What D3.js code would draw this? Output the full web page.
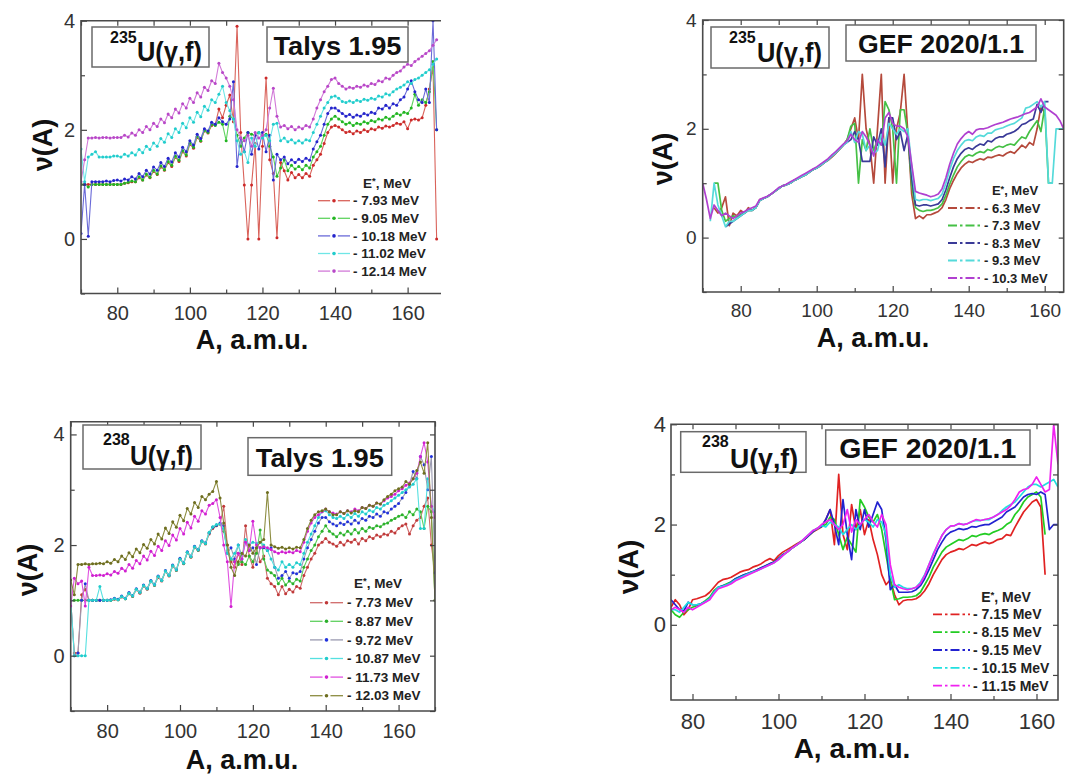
<!DOCTYPE html>
<html>
<head>
<meta charset="utf-8">
<script src="https://cdn.jsdelivr.net/npm/d3@7"></script>
<style>
  body { margin: 0; background: #fff; }
  svg { display: block; }
</style>
</head>
<body>
<svg id="chart" width="1065" height="776"></svg>
<script>
// ---------- data: nu(A), one value per mass number ----------

// 235U(g,f), Talys 1.95, A = 70..169
const talys235A0 = 70;
const talys235Energies = ['7.93', '9.05', '10.18', '11.02', '12.14'];
const talys235E793 = [
  1.00,1.00,1.00,1.00,1.00,1.00,1.00,1.00,1.00,1.00,
  1.00,1.00,1.02,1.03,1.05,1.05,1.12,1.08,1.17,1.12,
  1.24,1.18,1.32,1.26,1.40,1.33,1.50,1.42,1.60,1.52,
  1.74,1.66,1.86,1.79,1.98,1.94,2.08,2.10,2.38,2.22,
  2.45,2.64,2.15,3.90,1.95,0.99,0.00,0.99,1.75,0.00,
  1.70,2.95,1.45,1.20,0.02,1.40,1.25,1.08,1.22,1.12,
  1.18,1.12,1.20,1.15,1.35,1.45,1.55,1.75,1.95,2.05,
  2.08,2.05,2.00,1.95,1.97,1.93,1.98,1.95,2.00,1.97,
  2.02,2.00,2.05,2.03,2.07,2.05,2.08,2.12,2.10,2.15,
  2.02,2.18,2.20,2.18,2.22,2.45,2.75,3.15,0.00,null];
const talys235E905 = [
  1.00,1.00,0.95,1.00,1.00,1.00,1.00,1.00,1.00,1.00,
  1.00,1.00,1.02,1.04,1.06,1.05,1.14,1.08,1.19,1.13,
  1.26,1.19,1.34,1.27,1.42,1.35,1.52,1.44,1.62,1.54,
  1.76,1.68,1.88,1.80,1.99,1.95,2.10,2.08,2.14,2.10,
  1.80,2.25,2.20,1.90,1.70,1.85,1.95,1.92,1.90,1.95,
  1.88,1.92,1.70,1.50,1.15,1.30,1.45,1.25,1.35,1.28,
  1.33,1.27,1.35,1.30,1.50,1.60,1.70,1.90,2.10,2.20,
  2.25,2.20,2.15,2.10,2.13,2.08,2.12,2.10,2.15,2.12,
  2.17,2.15,2.20,2.18,2.23,2.20,2.25,2.30,2.27,2.32,
  2.30,2.40,2.65,2.45,2.55,2.50,2.70,3.25,2.00,null];
const talys235E1018 = [
  0.10,1.00,0.05,1.05,1.05,1.05,1.05,1.06,1.05,1.07,
  1.08,1.06,1.10,1.08,1.14,1.10,1.20,1.14,1.26,1.19,
  1.32,1.26,1.40,1.33,1.48,1.41,1.58,1.50,1.68,1.60,
  1.80,1.72,1.92,1.84,2.02,1.98,2.14,2.10,2.22,2.15,
  2.10,2.20,2.88,1.33,1.85,1.60,1.95,1.55,1.90,1.65,
  1.95,1.60,1.90,1.08,1.55,1.45,1.50,1.38,1.45,1.40,
  1.46,1.42,1.48,1.44,1.65,1.78,1.90,2.10,2.30,2.40,
  2.40,2.35,2.30,2.25,2.28,2.23,2.27,2.25,2.30,2.27,
  2.32,2.30,2.40,2.38,2.45,2.40,2.48,2.45,2.55,2.60,
  2.75,2.90,2.70,2.55,2.50,2.75,2.50,4.00,2.00,null];
const talys235E1102 = [
  1.65,1.05,1.50,1.55,1.60,1.50,1.50,1.50,1.50,1.52,
  1.52,1.50,1.55,1.52,1.58,1.54,1.64,1.58,1.70,1.64,
  1.76,1.70,1.84,1.77,1.93,1.86,2.02,1.95,2.12,2.04,
  2.22,2.14,2.32,2.24,2.43,2.36,2.55,2.50,2.65,2.80,
  2.50,2.35,2.20,1.80,1.55,1.60,1.40,1.85,1.70,1.95,
  1.85,1.90,1.80,2.10,2.12,1.80,1.85,1.78,1.82,1.76,
  1.80,1.76,1.82,1.80,1.95,2.10,2.25,2.40,2.50,2.60,
  2.62,2.58,2.52,2.50,2.53,2.50,2.54,2.52,2.56,2.54,
  2.58,2.56,2.62,2.60,2.66,2.64,2.70,2.75,2.78,2.82,
  2.88,2.85,2.92,2.95,3.00,3.05,3.10,3.20,3.30,null];
const talys235E1214 = [
  1.05,1.45,1.85,1.85,1.86,1.85,1.86,1.86,1.85,1.86,
  1.86,1.86,1.90,1.87,1.94,1.90,2.00,1.95,2.06,2.00,
  2.12,2.06,2.20,2.13,2.29,2.22,2.38,2.31,2.48,2.40,
  2.58,2.50,2.68,2.60,2.78,2.72,2.90,2.85,3.22,3.05,
  2.95,2.80,2.55,2.00,1.85,1.80,1.90,1.70,1.95,1.85,
  1.90,2.00,2.40,2.76,2.25,2.05,2.08,2.02,2.06,2.00,
  2.05,2.02,2.08,2.05,2.20,2.40,2.55,2.70,2.80,2.92,
  2.95,2.85,2.80,2.75,2.78,2.76,2.80,2.78,2.82,2.80,
  2.85,2.83,2.90,2.88,2.95,2.93,3.00,3.05,3.08,3.15,
  3.20,3.18,3.25,3.30,3.35,3.40,3.45,3.55,3.65,null];

// 235U(g,f), GEF 2020/1.1, A = 70..165
const gef235A0 = 70;
const gef235Energies = ['6.3', '7.3', '8.3', '9.3', '10.3'];
const gef235E63 = [
  null,null,null,0.55,0.45,0.55,0.75,0.22,0.45,0.40,
  0.50,0.45,0.55,0.50,0.55,0.70,0.72,0.75,0.80,0.85,
  0.90,0.95,0.97,1.00,1.05,1.08,1.12,1.15,1.20,1.25,
  1.28,1.32,1.38,1.42,1.48,1.55,1.62,1.70,1.80,2.00,
  2.20,1.80,3.00,2.00,1.70,1.00,2.00,3.00,1.00,2.20,
  1.00,2.00,2.30,3.00,1.90,0.80,0.35,0.40,0.35,0.42,
  0.42,0.45,0.48,0.55,0.70,0.90,1.05,1.18,1.28,1.35,
  1.40,1.38,1.42,1.45,1.43,1.48,1.47,1.50,1.52,1.50,
  1.55,1.58,1.55,1.62,1.70,1.65,1.75,1.70,2.00,2.40,
  2.30,null,null,null,null,null];
const gef235E73 = [
  null,null,null,1.00,1.00,0.50,0.30,0.35,0.40,0.38,
  0.42,0.45,0.50,0.50,0.55,0.68,0.72,0.75,0.80,0.85,
  0.90,0.95,0.97,1.00,1.05,1.08,1.12,1.15,1.20,1.25,
  1.28,1.33,1.38,1.43,1.50,1.56,1.63,1.70,1.80,2.05,
  2.10,1.00,1.80,1.60,2.00,1.60,1.80,1.70,2.50,2.35,
  2.00,1.00,2.35,2.35,1.90,0.95,0.55,0.50,0.48,0.50,
  0.50,0.52,0.55,0.62,0.78,0.98,1.15,1.30,1.40,1.48,
  1.52,1.50,1.55,1.58,1.56,1.62,1.60,1.65,1.68,1.66,
  1.70,1.72,1.70,1.78,1.85,1.82,1.95,2.05,2.15,1.95,
  2.40,1.00,1.00,null,null,null];
const gef235E83 = [
  null,null,null,null,null,null,0.20,0.25,0.30,0.35,
  0.40,0.45,0.50,0.50,0.55,0.68,0.72,0.75,0.80,0.85,
  0.90,0.95,0.97,1.00,1.05,1.08,1.12,1.15,1.20,1.25,
  1.28,1.33,1.38,1.43,1.50,1.56,1.63,1.70,1.75,1.80,
  1.95,1.80,1.40,1.40,1.40,1.85,1.70,2.00,1.30,2.20,
  2.20,1.80,1.95,1.60,1.90,1.10,0.60,0.58,0.60,0.60,
  0.58,0.60,0.62,0.70,0.88,1.10,1.30,1.45,1.55,1.62,
  1.65,1.62,1.68,1.72,1.70,1.78,1.76,1.82,1.85,1.85,
  1.90,1.92,1.95,2.00,2.08,2.10,2.15,2.18,2.45,2.30,
  2.50,2.50,null,null,null,null];
const gef235E93 = [
  null,null,0.30,1.00,0.60,0.40,0.20,0.30,0.30,0.35,
  0.40,0.45,0.50,0.50,0.55,0.68,0.72,0.75,0.80,0.85,
  0.90,0.95,0.97,1.00,1.05,1.08,1.12,1.15,1.20,1.25,
  1.28,1.33,1.38,1.43,1.50,1.56,1.63,1.70,1.75,1.95,
  1.75,1.95,1.90,1.60,1.70,1.55,1.60,1.90,1.70,2.10,
  2.00,1.90,2.00,1.95,2.00,1.30,0.70,0.68,0.70,0.70,
  0.68,0.70,0.72,0.80,1.00,1.25,1.45,1.60,1.70,1.78,
  1.80,1.78,1.85,1.88,1.86,1.92,1.92,1.98,2.00,2.02,
  2.05,2.08,2.10,2.15,2.20,2.38,2.40,2.45,2.50,2.40,
  2.50,1.00,1.00,2.00,2.00,2.00];
const gef235E103 = [
  1.00,0.70,0.35,0.60,0.50,0.40,0.45,0.40,0.35,0.40,
  0.45,0.48,0.52,0.55,0.58,0.70,0.73,0.76,0.80,0.86,
  0.92,0.95,0.98,1.02,1.06,1.10,1.14,1.18,1.22,1.26,
  1.30,1.35,1.40,1.45,1.52,1.58,1.65,1.72,1.78,1.90,
  1.80,1.75,1.95,1.85,1.70,1.50,1.80,1.70,2.20,2.30,
  2.10,2.05,2.05,2.00,1.85,1.35,0.85,0.82,0.80,0.78,
  0.75,0.77,0.80,0.90,1.10,1.35,1.55,1.72,1.82,1.90,
  1.95,1.90,1.98,2.00,2.00,2.02,2.05,2.08,2.10,2.12,
  2.15,2.18,2.20,2.22,2.25,2.28,2.30,2.35,2.40,2.55,
  2.40,2.35,2.30,2.25,2.15,2.00];

// 238U(g,f), Talys 1.95, A = 70..170
const talys238A0 = 70;
const talys238Energies = ['7.73', '8.87', '9.72', '10.87', '11.73', '12.03'];
const talys238E773 = [
  1.00,0.05,0.05,1.10,1.20,1.00,1.00,1.00,1.00,1.00,
  1.00,1.00,1.02,1.01,1.06,1.03,1.12,1.07,1.19,1.13,
  1.26,1.20,1.34,1.27,1.42,1.35,1.52,1.44,1.62,1.54,
  1.74,1.66,1.86,1.78,1.96,1.90,2.06,2.02,2.20,2.30,
  2.35,2.38,2.70,2.00,1.70,1.60,1.85,1.65,2.35,1.80,
  1.60,1.95,1.70,1.80,1.40,1.30,1.25,1.10,1.25,1.12,
  1.20,1.15,1.25,1.22,1.45,1.60,1.75,1.85,2.00,2.05,
  2.12,2.05,2.02,1.98,2.05,2.00,2.08,2.05,2.10,2.02,
  2.12,2.08,2.15,2.12,2.18,2.15,2.20,2.18,2.25,2.22,
  2.30,2.35,2.38,2.20,2.35,2.45,2.50,2.70,2.85,2.00,1.50];
const talys238E887 = [
  1.00,1.00,1.00,1.00,1.00,1.00,1.00,1.00,1.00,1.00,
  1.00,1.00,1.03,1.01,1.07,1.03,1.13,1.08,1.20,1.14,
  1.27,1.21,1.35,1.28,1.43,1.36,1.53,1.45,1.63,1.55,
  1.75,1.67,1.87,1.79,1.97,1.91,2.07,2.03,2.22,2.32,
  2.36,2.38,2.25,1.90,1.75,1.70,1.65,1.70,1.65,1.80,
  1.70,1.85,2.27,1.75,1.55,1.50,1.45,1.30,1.40,1.28,
  1.35,1.30,1.38,1.35,1.60,1.75,1.90,2.00,2.15,2.25,
  2.35,2.25,2.20,2.15,2.22,2.18,2.25,2.20,2.28,2.22,
  2.30,2.25,2.32,2.30,2.35,2.33,2.38,2.40,2.45,2.48,
  2.52,2.55,2.50,2.60,2.55,2.65,2.60,2.30,2.70,2.60,1.00];
const talys238E972 = [
  1.00,0.00,0.05,1.00,1.30,1.00,1.00,1.00,1.00,1.00,
  1.00,1.01,1.04,1.02,1.08,1.04,1.14,1.09,1.21,1.15,
  1.28,1.22,1.36,1.29,1.44,1.37,1.54,1.46,1.64,1.56,
  1.76,1.68,1.88,1.80,1.98,1.92,2.08,2.04,2.22,2.32,
  2.36,2.40,2.35,1.85,1.95,1.75,2.00,1.80,2.05,1.90,
  1.95,1.65,1.95,1.95,1.90,1.95,1.60,1.40,1.45,1.52,
  1.40,1.50,1.48,1.52,1.75,1.95,2.10,2.25,2.40,2.50,
  2.50,2.42,2.38,2.35,2.40,2.37,2.42,2.38,2.45,2.40,
  2.48,2.45,2.52,2.50,2.56,2.52,2.60,2.58,2.65,2.70,
  2.75,2.85,2.95,3.10,3.33,3.20,3.60,3.45,3.00,3.60,1.50];
const talys238E1087 = [
  1.00,0.00,0.00,0.00,0.00,1.00,1.00,1.00,1.25,1.00,
  1.00,1.00,1.03,1.01,1.07,1.03,1.13,1.08,1.20,1.14,
  1.27,1.21,1.35,1.28,1.43,1.36,1.53,1.45,1.63,1.55,
  1.75,1.67,1.87,1.79,1.97,1.91,2.07,2.03,2.23,2.33,
  2.37,2.38,2.30,1.85,1.75,1.85,2.00,1.75,2.10,2.00,
  2.05,2.03,2.05,2.00,1.90,1.75,1.60,1.55,1.70,1.60,
  1.65,1.60,1.68,1.65,1.85,2.05,2.20,2.35,2.50,2.60,
  2.62,2.55,2.50,2.48,2.52,2.48,2.55,2.50,2.57,2.52,
  2.60,2.56,2.63,2.60,2.68,2.65,2.72,2.75,2.80,2.85,
  2.90,2.95,3.00,3.05,3.10,3.20,2.30,2.30,3.20,2.70,2.60];
const talys238E1173 = [
  0.90,1.40,1.30,1.35,0.90,1.60,1.45,1.45,1.46,1.45,
  1.48,1.46,1.52,1.49,1.58,1.53,1.65,1.58,1.72,1.66,
  1.80,1.73,1.89,1.81,1.98,1.90,2.08,1.99,2.18,2.09,
  2.30,2.20,2.41,2.31,2.52,2.43,2.62,2.56,2.72,2.75,
  2.82,2.50,2.00,1.70,0.89,1.70,1.85,1.75,2.05,1.90,
  2.43,2.00,1.95,1.97,1.95,1.92,1.88,1.85,1.88,1.86,
  1.88,1.86,1.90,1.88,2.05,2.25,2.40,2.50,2.55,2.60,
  2.65,2.60,2.58,2.56,2.60,2.57,2.62,2.60,2.65,2.62,
  2.68,2.66,2.72,2.70,2.76,2.74,2.80,2.85,2.88,2.92,
  2.98,3.02,3.08,3.12,3.20,3.30,3.60,3.85,3.50,2.70,2.50];
const talys238E1203 = [
  1.37,1.10,1.65,1.65,1.66,1.65,1.66,1.66,1.67,1.66,
  1.70,1.67,1.74,1.70,1.80,1.74,1.86,1.79,1.93,1.86,
  2.01,1.94,2.10,2.02,2.20,2.11,2.31,2.21,2.42,2.32,
  2.54,2.44,2.66,2.56,2.77,2.68,2.88,2.82,2.92,2.97,
  3.15,2.85,2.40,2.00,1.60,1.45,1.70,1.85,1.80,2.00,
  1.85,1.95,2.05,2.10,2.95,2.00,1.97,1.94,1.96,1.93,
  1.95,1.93,1.96,1.95,2.10,2.30,2.45,2.55,2.60,2.62,
  2.65,2.60,2.55,2.55,2.60,2.57,2.62,2.58,2.62,2.60,
  2.68,2.66,2.72,2.70,2.76,2.74,2.82,2.88,2.92,2.98,
  3.02,3.05,3.15,3.10,3.20,3.35,3.50,3.30,3.85,2.50,1.00];

// 238U(g,f), GEF 2020/1.1, A = 75..165
const gef238A0 = 75;
const gef238Energies = ['7.15', '8.15', '9.15', '10.15', '11.15'];
const gef238E715 = [
  0.35,0.50,0.40,0.20,0.30,
  0.50,0.52,0.55,0.58,0.65,0.75,0.85,0.90,0.92,0.95,
  1.00,1.05,1.08,1.10,1.15,1.18,1.22,1.28,1.32,1.28,
  1.38,1.45,1.50,1.55,1.60,1.65,1.70,1.78,1.85,1.90,
  1.95,2.10,2.30,1.60,3.00,1.80,1.50,2.40,1.90,2.30,
  1.80,2.10,1.70,1.40,1.00,0.80,0.90,0.60,0.40,0.48,
  0.50,0.50,0.52,0.58,0.68,0.82,1.00,1.15,1.30,1.40,
  1.45,1.48,1.52,1.50,1.55,1.60,1.58,1.62,1.65,1.62,
  1.65,1.70,1.72,1.80,1.78,1.95,2.10,2.25,2.35,2.45,
  2.50,2.35,1.00,null,null,null];
const gef238E815 = [
  0.30,0.20,0.15,0.25,0.30,
  0.35,0.38,0.42,0.48,0.55,0.68,0.75,0.78,0.82,0.86,
  0.92,0.96,1.00,1.03,1.06,1.10,1.14,1.18,1.22,1.26,
  1.32,1.40,1.45,1.52,1.58,1.64,1.70,1.78,1.86,1.92,
  1.96,2.00,2.15,2.10,1.80,1.50,1.75,1.60,1.45,2.50,
  2.35,2.15,2.05,2.20,1.90,1.40,0.90,0.50,0.52,0.55,
  0.55,0.56,0.58,0.65,0.80,0.95,1.15,1.30,1.45,1.55,
  1.60,1.65,1.70,1.68,1.72,1.78,1.76,1.80,1.82,1.80,
  1.85,1.88,1.92,2.00,2.05,2.20,2.30,2.45,2.55,2.60,
  2.65,2.55,1.80,null,null,null];
const gef238E915 = [
  0.50,0.40,0.30,0.28,0.45,
  0.40,0.40,0.42,0.46,0.52,0.65,0.75,0.78,0.80,0.85,
  0.92,0.96,1.00,1.03,1.06,1.10,1.14,1.18,1.22,1.25,
  1.32,1.40,1.45,1.52,1.58,1.64,1.70,1.78,1.86,1.92,
  1.96,2.10,2.30,2.00,1.60,2.50,1.80,1.30,2.30,1.90,
  2.30,1.95,2.20,2.45,2.30,1.70,0.70,0.80,0.65,0.65,
  0.65,0.66,0.70,0.78,0.92,1.10,1.30,1.50,1.65,1.78,
  1.85,1.88,1.92,1.90,1.92,1.96,1.95,1.98,2.00,2.00,
  2.05,2.10,2.15,2.25,2.30,2.35,2.45,2.55,2.60,2.62,
  2.60,2.65,2.60,1.90,2.00,2.00];
const gef238E1015 = [
  0.30,0.30,0.25,0.35,0.45,
  0.40,0.40,0.42,0.46,0.52,0.65,0.75,0.77,0.80,0.84,
  0.90,0.94,0.98,1.02,1.05,1.08,1.12,1.16,1.20,1.24,
  1.30,1.38,1.45,1.52,1.58,1.64,1.72,1.80,1.88,1.92,
  1.98,1.95,2.05,2.00,1.95,1.80,1.90,2.00,1.90,2.00,
  2.10,2.05,1.95,2.10,2.05,1.80,1.00,0.75,0.80,0.75,
  0.72,0.72,0.75,0.85,1.00,1.20,1.42,1.60,1.78,1.90,
  1.97,1.98,2.02,2.00,2.02,2.06,2.08,2.08,2.10,2.10,
  2.15,2.20,2.28,2.35,2.40,2.45,2.55,2.65,2.75,2.80,
  2.80,2.75,2.80,2.85,2.90,2.75];
const gef238E1115 = [
  0.30,0.35,0.30,0.25,0.35,
  0.30,0.35,0.40,0.45,0.50,0.62,0.72,0.75,0.78,0.82,
  0.88,0.92,0.96,1.00,1.04,1.08,1.12,1.16,1.20,1.24,
  1.30,1.38,1.45,1.52,1.58,1.64,1.72,1.80,1.88,1.92,
  2.00,2.05,2.10,2.00,1.90,2.00,2.30,1.85,2.10,2.00,
  2.10,2.20,2.05,1.95,2.20,2.00,1.20,0.80,0.75,0.72,
  0.70,0.72,0.75,0.82,0.98,1.20,1.40,1.60,1.78,1.90,
  1.97,1.98,2.02,2.00,2.02,2.06,2.10,2.08,2.10,2.12,
  2.15,2.20,2.25,2.30,2.38,2.50,2.65,2.70,2.72,2.80,
  2.95,2.80,2.65,2.70,4.00,3.20];

// axis ticks
const xMajorTicks = [80, 100, 120, 140, 160];
const xMinorTicks = [70, 90, 110, 130, 150, 170];
const yMajorTicks = [0, 2, 4];
const yMinorTicks = [-1, 1, 3];

// ---------- drawing ----------
const FONT = "'Liberation Sans', Arial, Helvetica, sans-serif";
const svg = d3.select('#chart');

function drawPanel(p) {
  const x = d3.scaleLinear().domain(p.xDomain).range([p.left, p.right]);
  const y = d3.scaleLinear().domain(p.yDomain).range([p.bottom, p.top]);
  const g = svg.append('g');

  g.append('clipPath').attr('id', 'clip-' + p.id)
    .append('rect')
    .attr('x', p.left).attr('y', p.top)
    .attr('width', p.right - p.left).attr('height', p.bottom - p.top);

  const plot = g.append('g').attr('clip-path', `url(#clip-${p.id})`);
  const line = d3.line()
    .defined(d => d.v !== null)
    .x(d => x(d.a))
    .y(d => y(d.v));

  p.series.forEach(s => {
    const pts = s.values.map((v, i) => ({ a: p.a0 + i, v: v }));
    plot.append('path')
      .datum(pts)
      .attr('d', line)
      .attr('fill', 'none')
      .attr('stroke', s.color)
      .attr('stroke-width', p.lineWidth)
      .attr('stroke-linejoin', 'round');
    if (p.markers) {
      plot.selectAll(null)
        .data(pts.filter(d => d.v !== null))
        .enter().append('circle')
        .attr('cx', d => x(d.a))
        .attr('cy', d => y(d.v))
        .attr('r', 1.5)
        .attr('fill', s.dot || s.color);
    }
  });

  // axes, all ticks pointing into the frame
  const inX = t => t.filter(v => v >= p.xDomain[0] && v <= p.xDomain[1]);
  const inY = t => t.filter(v => v >= p.yDomain[0] && v <= p.yDomain[1]);
  const styleAxis = sel => {
    sel.select('.domain').remove();
    sel.selectAll('line').attr('stroke', '#444').attr('stroke-width', 1.2);
    sel.selectAll('text')
      .attr('fill', '#333')
      .attr('font-size', p.tickFont)
      .attr('font-family', FONT);
  };

  g.append('g').attr('transform', `translate(0,${p.bottom})`)
    .call(d3.axisBottom(x).tickValues(inX(xMajorTicks)).tickSize(-6).tickPadding(p.xPad).tickFormat(d3.format('d')))
    .call(styleAxis);
  g.append('g').attr('transform', `translate(0,${p.bottom})`)
    .call(d3.axisBottom(x).tickValues(inX(xMinorTicks)).tickSize(-4).tickFormat(''))
    .call(styleAxis);
  g.append('g').attr('transform', `translate(0,${p.top})`)
    .call(d3.axisTop(x).tickValues(inX(xMajorTicks.concat(xMinorTicks))).tickSize(-5).tickFormat(''))
    .call(styleAxis);
  g.append('g').attr('transform', `translate(${p.left},0)`)
    .call(d3.axisLeft(y).tickValues(inY(yMajorTicks)).tickSize(-6).tickPadding(p.yPad).tickFormat(d3.format('d')))
    .call(styleAxis);
  g.append('g').attr('transform', `translate(${p.left},0)`)
    .call(d3.axisLeft(y).tickValues(inY(yMinorTicks)).tickSize(-4).tickFormat(''))
    .call(styleAxis);

  // frame; the first panel is cropped on its right side in the figure
  const frame = g.append('path')
    .attr('fill', 'none').attr('stroke', '#4a4a4a').attr('stroke-width', 1.6);
  if (p.openRight) {
    frame.attr('d', `M${p.right},${p.top}H${p.left}V${p.bottom}H${p.right}`);
  } else {
    g.append('g').attr('transform', `translate(${p.right},0)`)
      .call(d3.axisRight(y).tickValues(inY(yMajorTicks.concat(yMinorTicks))).tickSize(-5).tickFormat(''))
      .call(styleAxis);
    frame.attr('d', `M${p.left},${p.top}H${p.right}V${p.bottom}H${p.left}Z`);
  }

  // axis titles
  g.append('text')
    .attr('x', p.xTitle[0]).attr('y', p.xTitle[1])
    .attr('text-anchor', 'middle')
    .attr('font-family', FONT).attr('font-weight', 'bold')
    .attr('font-size', p.titleFont).attr('fill', '#111')
    .text('A, a.m.u.');
  g.append('text')
    .attr('transform', `translate(${p.yTitle[0]},${p.yTitle[1]}) rotate(-90)`)
    .attr('text-anchor', 'middle')
    .attr('font-family', FONT).attr('font-weight', 'bold')
    .attr('font-size', p.titleFont).attr('fill', '#111')
    .text('\u03bd(A)');

  // labelled boxes: reaction and code
  const rb = p.reactionBox;
  g.append('rect').attr('x', rb.x).attr('y', rb.y).attr('width', rb.w).attr('height', rb.h)
    .attr('fill', '#fff').attr('stroke', '#6a6a6a').attr('stroke-width', 1.5);
  g.append('text').attr('x', rb.supX).attr('y', rb.supY)
    .attr('font-family', FONT).attr('font-weight', 'bold').attr('font-size', 16).attr('fill', '#111')
    .text(p.isotope);
  g.append('text').attr('x', rb.mainX).attr('y', rb.mainY)
    .attr('font-family', FONT).attr('font-weight', 'bold').attr('font-size', 28).attr('fill', '#111')
    .attr('textLength', rb.mainW).attr('lengthAdjust', 'spacingAndGlyphs')
    .text('U(\u03b3,f)');

  const cb = p.codeBox;
  g.append('rect').attr('x', cb.x).attr('y', cb.y).attr('width', cb.w).attr('height', cb.h)
    .attr('fill', '#fff').attr('stroke', '#6a6a6a').attr('stroke-width', 1.5);
  g.append('text').attr('x', cb.x + cb.w / 2).attr('y', cb.textY)
    .attr('text-anchor', 'middle')
    .attr('font-family', FONT).attr('font-weight', 'bold').attr('font-size', cb.font).attr('fill', '#111')
    .attr('textLength', cb.textW).attr('lengthAdjust', 'spacingAndGlyphs')
    .text(p.code);

  // legend
  const lg = p.legend;
  const head = g.append('text').attr('x', lg.headX).attr('y', lg.headY).attr('dy', '0.35em')
    .attr('text-anchor', 'middle')
    .attr('font-family', FONT).attr('font-weight', 'bold').attr('font-size', lg.font).attr('fill', '#222');
  head.append('tspan').text('E');
  head.append('tspan').attr('font-size', lg.font * 0.7).attr('dy', '-0.35em').text('*');
  head.append('tspan').attr('dy', '0.25em').text(', MeV');

  p.series.forEach((s, i) => {
    const cy = lg.y0 + i * lg.step;
    const w = lg.x1 - lg.x0;
    if (p.markers) {
      g.append('line').attr('x1', lg.x0).attr('x2', lg.x0 + w * 0.38).attr('y1', cy).attr('y2', cy)
        .attr('stroke', s.color).attr('stroke-width', 1.3);
      g.append('line').attr('x1', lg.x1 - w * 0.38).attr('x2', lg.x1).attr('y1', cy).attr('y2', cy)
        .attr('stroke', s.color).attr('stroke-width', 1.3);
      g.append('circle').attr('cx', lg.x0 + w / 2).attr('cy', cy).attr('r', 1.8)
        .attr('fill', s.dot || s.color);
    } else {
      g.append('line').attr('x1', lg.x0).attr('x2', lg.x1).attr('y1', cy).attr('y2', cy)
        .attr('stroke', s.color).attr('stroke-width', 1.8)
        .attr('stroke-dasharray', '9,3,2.5,3');
    }
    g.append('text').attr('x', lg.textX).attr('y', cy).attr('dy', '0.35em')
      .attr('font-family', FONT).attr('font-weight', 'bold').attr('font-size', lg.font).attr('fill', '#222')
      .text('- ' + s.energy + ' MeV');
  });
}

const colorsT235 = [
  { color: '#d9625a', dot: '#cc2a2a' },
  { color: '#5fd35f', dot: '#22b522' },
  { color: '#6a6ad8', dot: '#2424cc' },
  { color: '#6fe6e6', dot: '#22cccc' },
  { color: '#d27ad8', dot: '#b848c8' }
];
const colorsG235 = ['#b54a3c', '#45c045', '#3a3a98', '#55dada', '#b040d0'];
const colorsT238 = [
  { color: '#d06a6a', dot: '#c03a3a' },
  { color: '#5fd05f', dot: '#2cb02c' },
  { color: '#9a9ab0', dot: '#2233dd' },
  { color: '#55e0e0', dot: '#22cccc' },
  { color: '#e050e0', dot: '#d020d0' },
  { color: '#8c8c40', dot: '#6e6e20' }
];
const colorsG238 = ['#e02222', '#22cc22', '#2222d0', '#22e0e0', '#f022f0'];

drawPanel({
  id: 'p1', a0: talys235A0, markers: true, lineWidth: 1.1, openRight: true,
  xDomain: [70, 169.2], yDomain: [-1, 4],
  left: 81, right: 441, top: 20.7, bottom: 293.5,
  tickFont: 20, xPad: 12, yPad: 6, titleFont: 27,
  xTitle: [252, 349], yTitle: [52, 145],
  isotope: '235', code: 'Talys 1.95',
  reactionBox: { x: 92, y: 27, w: 117, h: 40, supX: 110, supY: 43, mainX: 137, mainY: 61, mainW: 65 },
  codeBox: { x: 267, y: 27, w: 141, h: 35, textY: 55, font: 26, textW: 128 },
  legend: { headX: 387, headY: 183, y0: 200.7, step: 17.6, x0: 318, x1: 350, textX: 353, font: 13.5 },
  series: [talys235E793, talys235E905, talys235E1018, talys235E1102, talys235E1214]
    .map((v, i) => ({ values: v, energy: talys235Energies[i], color: colorsT235[i].color, dot: colorsT235[i].dot }))
});

drawPanel({
  id: 'p2', a0: gef235A0, markers: false, lineWidth: 1.7,
  xDomain: [70, 165], yDomain: [-1, 4],
  left: 702.7, right: 1063.7, top: 20, bottom: 292,
  tickFont: 19, xPad: 12, yPad: 6, titleFont: 27,
  xTitle: [873, 347], yTitle: [672, 159],
  isotope: '235', code: 'GEF 2020/1.1',
  reactionBox: { x: 711, y: 27, w: 118, h: 41, supX: 729, supY: 43, mainX: 757, mainY: 62, mainW: 65 },
  codeBox: { x: 846, y: 25, w: 190, h: 36, textY: 53, font: 26, textW: 166 },
  legend: { headX: 1015, headY: 190.7, y0: 208, step: 17.5, x0: 948, x1: 982, textX: 984, font: 13 },
  series: [gef235E63, gef235E73, gef235E83, gef235E93, gef235E103]
    .map((v, i) => ({ values: v, energy: gef235Energies[i], color: colorsG235[i] }))
});

drawPanel({
  id: 'p3', a0: talys238A0, markers: true, lineWidth: 1.1,
  xDomain: [70, 170], yDomain: [-1, 4.23],
  left: 70.7, right: 435, top: 421.7, bottom: 711,
  tickFont: 20, xPad: 13, yPad: 6, titleFont: 27,
  xTitle: [242, 769], yTitle: [37, 570],
  isotope: '238', code: 'Talys 1.95',
  reactionBox: { x: 83, y: 425, w: 118, h: 44, supX: 103, supY: 445, mainX: 130, mainY: 465, mainW: 63 },
  codeBox: { x: 248, y: 437.7, w: 143.7, h: 37.6, textY: 467, font: 26, textW: 128 },
  legend: { headX: 378, headY: 583, y0: 602.7, step: 18.6, x0: 310, x1: 343, textX: 347, font: 13.5 },
  series: [talys238E773, talys238E887, talys238E972, talys238E1087, talys238E1173, talys238E1203]
    .map((v, i) => ({ values: v, energy: talys238Energies[i], color: colorsT238[i].color, dot: colorsT238[i].dot }))
});

drawPanel({
  id: 'p4', a0: gef238A0, markers: false, lineWidth: 1.7,
  xDomain: [75, 165], yDomain: [-1.5, 4],
  left: 671, right: 1058, top: 424.3, bottom: 700,
  tickFont: 22, xPad: 13, yPad: 5, titleFont: 28,
  xTitle: [852, 758], yTitle: [638, 567],
  isotope: '238', code: 'GEF 2020/1.1',
  reactionBox: { x: 680.7, y: 431.7, w: 125.3, h: 40.6, supX: 702, supY: 447, mainX: 730, mainY: 468, mainW: 68 },
  codeBox: { x: 825.7, y: 430, w: 204.3, h: 35, textY: 458, font: 28, textW: 177 },
  legend: { headX: 1006, headY: 596.7, y0: 614.3, step: 17.85, x0: 933, x1: 970, textX: 973, font: 14 },
  series: [gef238E715, gef238E815, gef238E915, gef238E1015, gef238E1115]
    .map((v, i) => ({ values: v, energy: gef238Energies[i], color: colorsG238[i] }))
});
</script>
</body>
</html>
